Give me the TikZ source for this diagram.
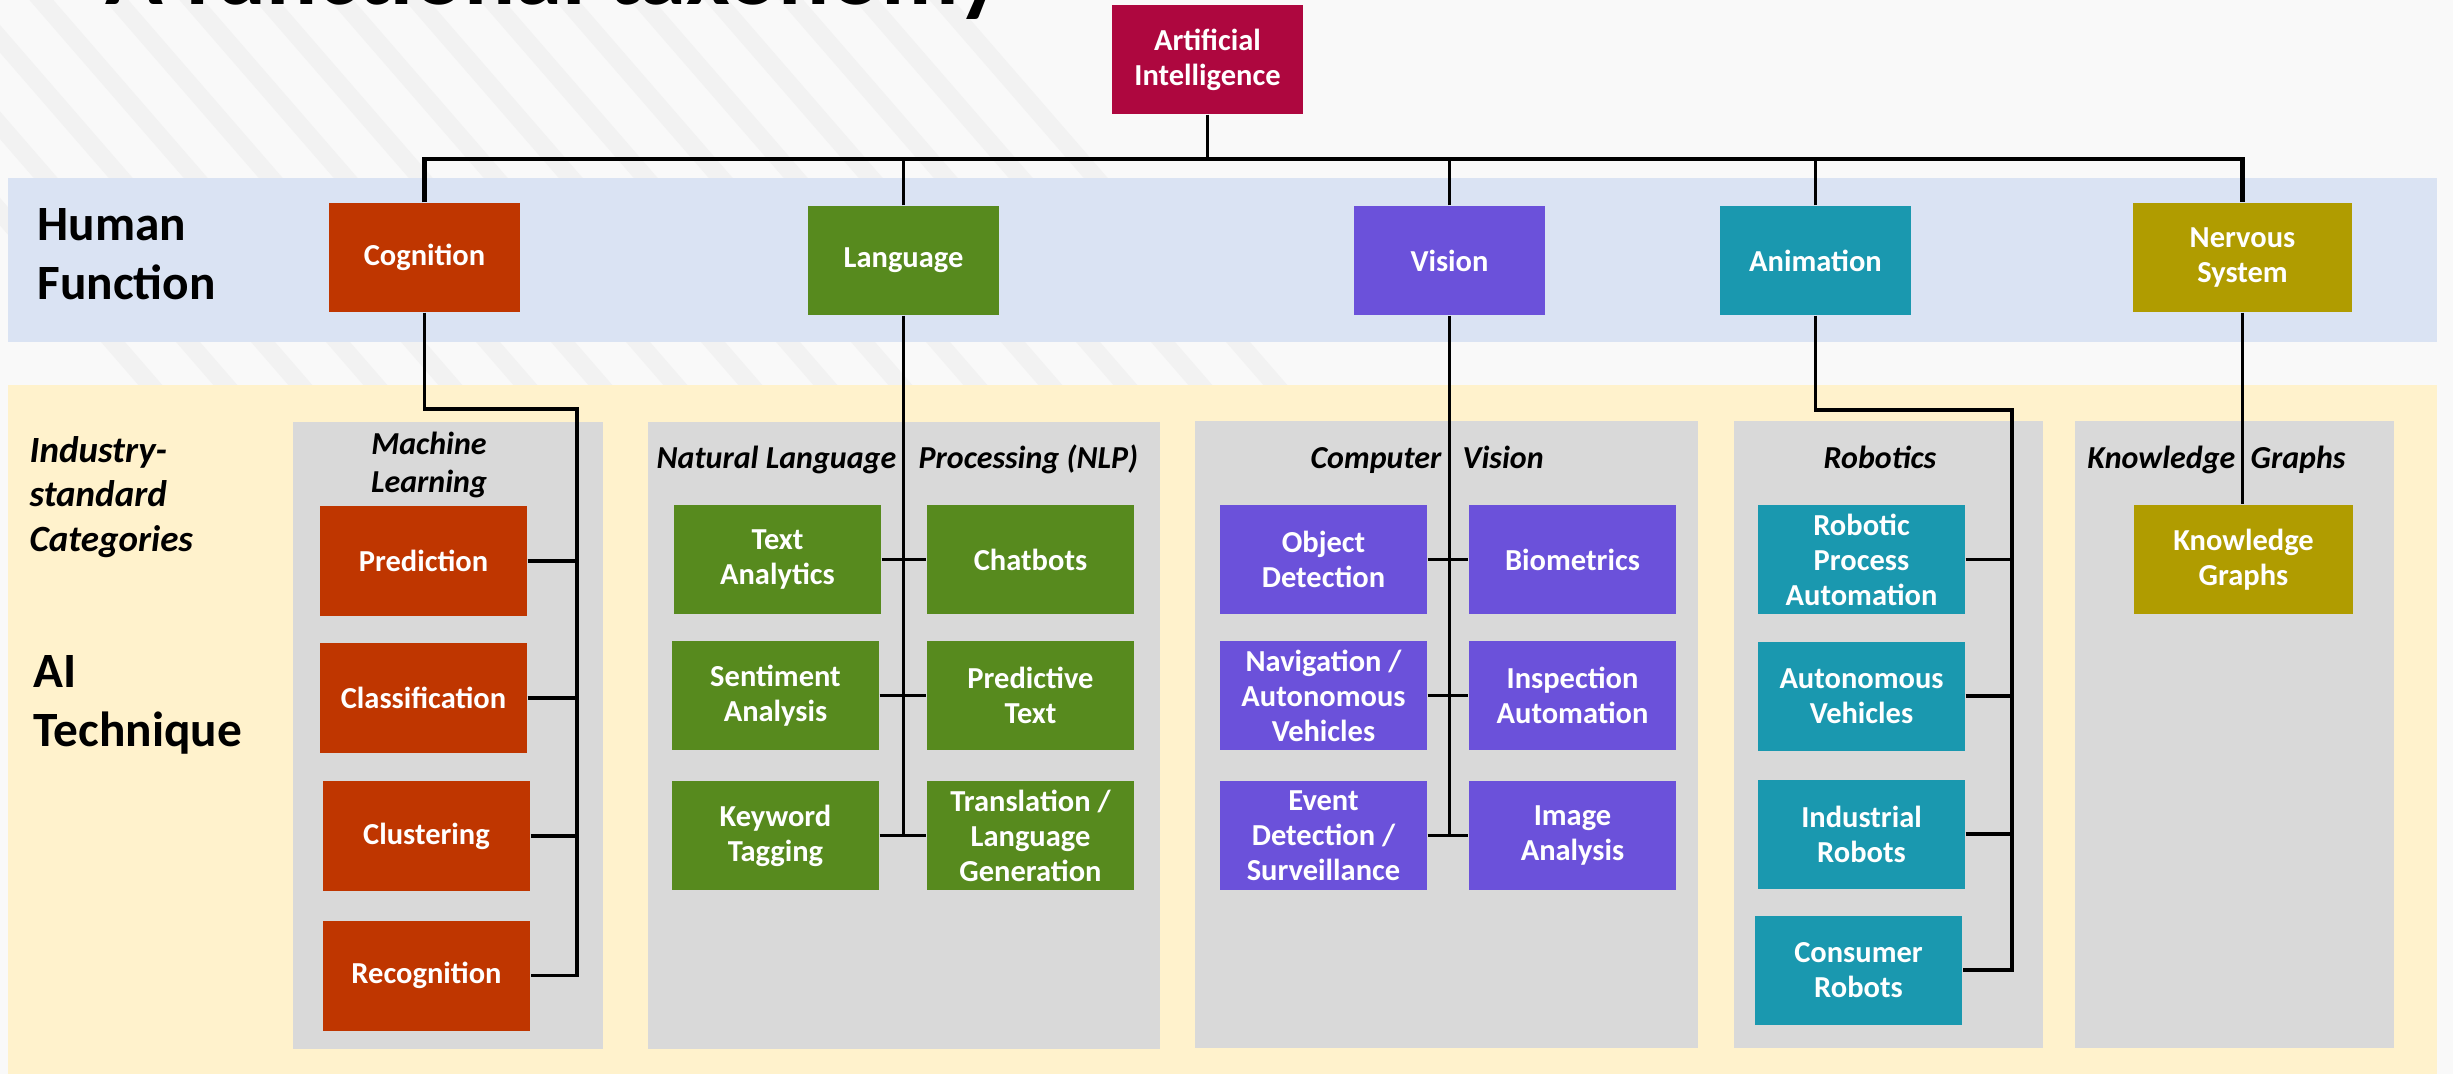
\documentclass[tikz,border=0pt]{standalone}
\usepackage{fontspec}
\setmainfont{Carlito}
\definecolor{bgC}{HTML}{F9F9F9}
\definecolor{stripeC}{HTML}{E6E6E6}
\definecolor{blueBand}{HTML}{DAE3F3}
\definecolor{yellowBand}{HTML}{FFF2CC}
\definecolor{panelC}{HTML}{D9D9D9}
\definecolor{aiC}{HTML}{AE073F}
\definecolor{cogC}{HTML}{BF3600}
\definecolor{langC}{HTML}{578A1E}
\definecolor{visC}{HTML}{6B51DA}
\definecolor{aniC}{HTML}{1A98AF}
\definecolor{nsC}{HTML}{B09C00}
\begin{document}
\begin{tikzpicture}[x=0.3pt,y=-0.3pt,
  conn/.style={line width=1.05pt, draw=black},
  bx/.style={fill=#1, text=white, font=\bfseries\fontsize{9.15pt}{10.5pt}\selectfont,
    align=center, inner sep=0pt, minimum width=62.1pt, minimum height=32.7pt},
  topbx/.style={bx=#1, minimum width=57.3pt},
  cat/.style={font=\bfseries\itshape\fontsize{9.6pt}{11.4pt}\selectfont, inner sep=0pt},
  sidelab/.style={font=\bfseries\fontsize{14.8pt}{17.6pt}\selectfont, align=left, inner sep=0pt, anchor=west},
  sidecat/.style={font=\bfseries\itshape\fontsize{11.1pt}{13.35pt}\selectfont, align=left, inner sep=0pt, anchor=west},
  stripe/.style={fill=stripeC, opacity=0.35}
]
\useasboundingbox (0,0) rectangle (2453,1074);
\fill[bgC] (0,0) rectangle (2453,1074);
% background stripes
\foreach \i in {0,...,15} {
  \fill[stripe] ({-200+\i*75},-5) -- ++(24,0) -- ++(360,415) -- ++(-24,0) -- cycle;
}
% title (clipped at the top edge)
\node[anchor=base west, inner sep=0pt, font=\bfseries\fontsize{28.6pt}{30pt}\selectfont] (title) at (105,5) {A functional taxonomy};

% bands
\fill[blueBand] (8,178) rectangle (2437,342);
\fill[yellowBand] (8,385) rectangle (2437,1074);

% panels
\fill[panelC] (293,422) rectangle (603,1049);
\fill[panelC] (648,422) rectangle (1160,1049);
\fill[panelC] (1195,421) rectangle (1698,1048);
\fill[panelC] (1734,421) rectangle (2043,1048);
\fill[panelC] (2075,421) rectangle (2394,1048);

% side labels
\node[sidelab] (hf) at (37,254) {Human\\Function};
\node[sidecat] (isc) at (29,497) {Industry-\\standard\\Categories};
\node[sidelab] (ait) at (33,705) {AI\\Technique};

% panel titles
\node[cat, align=center] (mlT) at (429,464.5) {Machine\\Learning};
\node[cat, anchor=base east] (nlpTa) at (897,468) {Natural Language};
\node[cat, anchor=base west] (nlpTb) at (918,468) {Processing (NLP)};
\node[cat, anchor=base east] (cvTa) at (1442,468) {Computer};
\node[cat, anchor=base west] (cvTb) at (1462,468) {Vision};
\node[cat, anchor=base] (robT) at (1880,468) {Robotics};
\node[cat, anchor=base east] (kgTa) at (2236,468) {Knowledge};
\node[cat, anchor=base west] (kgTb) at (2250,468) {Graphs};

% top level boxes
\node[topbx=aiC] (ai) at (1207.5,59.5) {Artificial\\Intelligence};
\node[topbx=cogC] (cog) at (424.5,257.5) {Cognition};
\node[topbx=langC] (lang) at (903.5,260.5) {Language};
\node[topbx=visC] (vis) at (1449.5,260.5) {Vision};
\node[topbx=aniC] (ani) at (1815.5,260.5) {Animation};
\node[topbx=nsC, minimum width=65.7pt] (ns) at (2242.5,257.5) {Nervous\\System};

% machine learning
\node[bx=cogC, minimum height=33pt] (pred) at (423.5,561) {Prediction};
\node[bx=cogC, minimum height=33pt] (clas) at (423.5,698) {Classification};
\node[bx=cogC, minimum height=33pt] (clus) at (426.5,836) {Clustering};
\node[bx=cogC, minimum height=33pt] (recog) at (426.5,975.5) {Recognition};

% NLP
\node[bx=langC] (ta) at (777.5,559.5) {Text\\Analytics};
\node[bx=langC] (chat) at (1030.5,559.5) {Chatbots};
\node[bx=langC] (sent) at (775.5,695.5) {Sentiment\\Analysis};
\node[bx=langC] (ptext) at (1030.5,695.5) {Predictive\\Text};
\node[bx=langC] (kw) at (775.5,835.5) {Keyword\\Tagging};
\node[bx=langC] (trans) at (1030.5,835.5) {Translation /\\Language\\Generation};

% Computer vision
\node[bx=visC] (od) at (1323.5,559.5) {Object\\Detection};
\node[bx=visC] (bio) at (1572.5,559.5) {Biometrics};
\node[bx=visC] (nav) at (1323.5,695.5) {Navigation /\\Autonomous\\Vehicles};
\node[bx=visC] (insp) at (1572.5,695.5) {Inspection\\Automation};
\node[bx=visC] (ev) at (1323.5,835.5) {Event\\Detection /\\Surveillance};
\node[bx=visC] (img) at (1572.5,835.5) {Image\\Analysis};

% Robotics
\node[bx=aniC] (rpa) at (1861.5,559.5) {Robotic\\Process\\Automation};
\node[bx=aniC] (av) at (1861.5,696) {Autonomous\\Vehicles};
\node[bx=aniC] (ir) at (1861.5,834) {Industrial\\Robots};
\node[bx=aniC] (cr) at (1858.5,970) {Consumer\\Robots};

% Knowledge graphs
\node[bx=nsC, minimum width=65.7pt] (kgb) at (2243.5,559.5) {Knowledge\\Graphs};

% connectors
\coordinate (busL) at (424.5,159);
\coordinate (busR) at (2242.5,159);
\draw[conn, line width=1.3pt] (cog.north) -- (busL) -- (busR) -- (ns.north);
\draw[conn] (ai.south) -- (ai.south |- busL);
\draw[conn] (lang.north) -- (lang.north |- busL);
\draw[conn] (vis.north) -- (vis.north |- busL);
\draw[conn] (ani.north) -- (ani.north |- busL);

\coordinate (mlbus) at (577,409);
\draw[conn] (cog.south) |- (mlbus) |- (recog.east);
\draw[conn] (pred.east) -- (pred.east -| mlbus);
\draw[conn] (clas.east) -- (clas.east -| mlbus);
\draw[conn] (clus.east) -- (clus.east -| mlbus);

\draw[conn] (lang.south) -- (lang.south |- kw.east);
\draw[conn] (ta.east) -- (chat.west);
\draw[conn] (sent.east) -- (ptext.west);
\draw[conn] (kw.east) -- (trans.west);

\draw[conn] (vis.south) -- (vis.south |- ev.east);
\draw[conn] (od.east) -- (bio.west);
\draw[conn] (nav.east) -- (insp.west);
\draw[conn] (ev.east) -- (img.west);

\coordinate (robbus) at (2012,410);
\draw[conn] (ani.south) |- (robbus) |- (cr.east);
\draw[conn] (rpa.east) -- (rpa.east -| robbus);
\draw[conn] (av.east) -- (av.east -| robbus);
\draw[conn] (ir.east) -- (ir.east -| robbus);

\draw[conn] (ns.south) -- (ns.south |- kgb.north);
\end{tikzpicture}
\end{document}
